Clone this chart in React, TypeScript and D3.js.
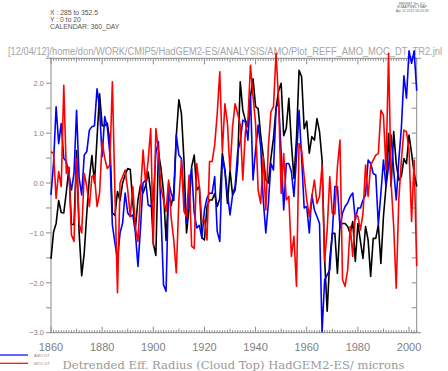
import React from 'react';
import * as d3 from 'd3';

const startYear = 1860;
const yearTicks = [1860, 1880, 1900, 1920, 1940, 1960, 1980, 2000];
const valueTicks = [2, 1, 0, -1, -2, -3];

// AMO DT (blue)
const amo = [
  -0.24, 0.4, 1.53, 0.79, 1.19, 0.49, 0.43, 0.16, -0.14, 0.2,
  1.46, 0.1, -0.24, 0.56, 0.63, 1.06, 1.13, 1.15, 1.89, 1.5,
  0.53, 1.33, 1.13, 0.6, -0.84, -1.2, -1.54, -1.0, -0.8, -0.2,
  -0.6, -0.67, -0.64, -1.0, -1.67, -0.9, 0.0, 0.06, -0.44, -0.47,
  -0.34, 0.6, 0.83, -0.6, -2.04, -2.17, 0.0, -0.2, -0.35, 0.96,
  0.56, 0.49, -0.31, -0.81, -0.1, 0.29, -0.6, -0.9, -0.85, -1.1,
  -0.54, -0.3, -0.2, -0.21, 0.13, -0.97, -1.17, 0.49, 0.26, -0.21,
  -0.64, -0.24, -0.07, 0.63, 0.83, 1.26, 1.23, 0.86, 1.76, 0.06,
  0.66, 1.16, 0.73, -0.34, -1.0, -0.41, 0.39, 0.26, 1.5, 1.63,
  0.6, -0.54, 0.39, 0.39, 0.23, -0.27, 0.53, 1.46, 0.5, -0.5,
  -0.47, -1.0, -0.24, -0.54, -0.67, -0.81, -2.98, -1.94, -1.84, -1.74,
  -1.01, -0.07, -0.07, -0.9, -0.6, -0.47, -0.4, -0.27, -0.2, -0.74,
  -0.5, -0.5, -0.34, -0.24, 0.46, 0.39, 0.19, 0.16, -0.84, -0.2,
  0.46, -0.07, 0.33, 0.96, 0.26, -0.34, 0.46, 1.1, 2.15, 1.7,
  2.65, 2.4, 2.65, 1.85,
];

// MOC DT (red)
const moc = [
  0.63, 0.59, -0.31, 0.23, -0.07, 1.96, 0.19, 0.32, -1.04, -1.17,
  0.49, -0.81, -1.0, 0.19, -0.07, -0.47, 0.13, 0.16, -0.47, -0.2,
  0.83, 0.5, 0.29, 0.36, 2.03, -0.2, -2.2, 0.0, 0.13, 0.26,
  -0.14, -0.67, -0.07, -0.9, -1.17, -0.2, 0.66, 0.0, 0.46, 1.09,
  -1.24, 1.09, 0.66, -0.1, -0.34, -0.57, 0.06, -0.7, -1.14, -1.8,
  -0.34, 0.46, -0.57, -0.67, 0.16, -1.27, -1.31, 0.39, -0.07, -0.77,
  -0.74, -1.14, 0.43, 0.43, 0.76, 1.39, 2.23, 0.63, 1.59, 1.19,
  0.23, 1.13, 1.59, 1.39, 1.16, 0.06, 1.03, 1.26, 2.36, 1.73,
  1.19, -0.14, -0.41, 0.53, -0.54, 0.73, 1.43, 1.53, 2.6, 1.66,
  -0.21, 0.59, -0.34, -0.27, -1.47, -1.07, -2.07, 0.79, 0.66, 0.13,
  -0.34, -0.67, -0.27, 0.06, -0.41, -0.27, 0.36, -1.57, -0.94, 0.13,
  -0.61, -0.62, 0.33, 0.86, -1.94, -2.07, -1.74, -0.87, -1.47, -0.61,
  -0.67, -0.94, -0.61, 0.36, -0.27, 0.36, 0.46, 0.56, 0.59, 1.46,
  1.36, 0.26, 2.6, 0.0, -0.87, -2.11, -0.34, 0.46, 1.06, 1.03,
  0.66, -0.77, 0.46, -1.67,
];

// third series (black)
const reff = [
  -1.52, -0.98, -0.81, -0.35, -0.59, -0.6, -0.18, 0.3, -0.83, -0.83,
  0.65, -1.0, -1.86, -1.4, -0.6, 0.1, 0.55, 0.0, 0.9, 1.79,
  1.15, 1.15, 1.2, 0.85, -0.6, -0.65, -0.17, -0.35, 0.0, 0.16,
  0.29, 0.27, -0.41, -0.91, -0.34, -0.04, -0.2, -0.05, 0.22, -0.18,
  -1.21, -1.45, 0.62, 0.3, -0.18, -1.15, -0.2, -0.45, -0.2, 0.95,
  1.67, 1.39, 0.46, -1.0, -0.5, 0.33, 0.56, -0.14, -0.07, -1.1,
  -1.14, -0.47, -0.34, -0.34, -0.21, -0.47, -0.31, 0.6, 0.26, -0.41,
  0.26, -0.24, -0.14, 0.39, 2.03, 1.46, 1.26, 1.13, 1.73, 2.09,
  1.53, 1.49, 0.96, 0.53, 0.06, 0.0, 0.5, 0.9, 1.5, 1.85,
  2.0, 0.95, 1.1, 1.7, 0.8, 0.09, 0.9, 2.26, 2.13, 1.09,
  1.24, 0.6, 0.93, 0.86, 1.29, 1.03, 0.46, -1.54, -2.57, -1.54,
  -1.01, -1.01, -1.81, -0.84, -0.81, -0.81, -0.87, -1.01, -0.77, -1.57,
  -0.81, -1.17, -1.51, -0.87, -1.14, -1.87, -1.11, -1.11, -0.84, -1.61,
  -0.67, -0.07, 0.99, -0.07, 1.03, 0.39, 0.06, 0.13, 0.49, 0.39,
  0.96, 0.6, 0.2, -0.07,
];

const W = 448;
const H = 371;
const left = 51;
const right = 416.7;
const top = 58.3;
const bottom = 332.7;

const x = d3.scaleLinear().domain([startYear, startYear + reff.length - 1]).range([left, right]);
const y = d3.scaleLinear().domain([-3, 2.5]).range([bottom, top]);

const lineOf = (vals: number[]) =>
  d3.line<number>()
    .x((d, i) => x(startYear + i))
    .y(d => y(d))(vals) || '';

const axisColor = '#8a8a8a';
const labelColor = '#808080';

const App: React.FC = () => {
  const years = d3.range(startYear, 2004);
  const halfSteps = d3.range(-3, 2.51, 0.5);

  return (
    <svg width={W} height={H} style={{ position: 'fixed', left: 0, top: 0, background: '#fff' }}
      fontFamily="'Liberation Sans', Arial, sans-serif">
      {/* header */}
      <g fill="#555" fontSize={6.8}>
        <text x={50} y={15}>X : 285 to 352.5</text>
        <text x={50} y={22}>Y : 0 to 20</text>
        <text x={50} y={29}>CALENDAR: 360_DAY</text>
      </g>
      <g fill="#666" fontSize={3.4} textAnchor="middle">
        <text x={412} y={4.5}>FERRET Ver. 6.1</text>
        <text x={412} y={8}>NOAA/PMEL TMAP</text>
        <text x={412} y={11.5}>Apr 12 2012 16:23:28</text>
      </g>
      <text x={8} y={54.5} fill="#a5a5a5" fontSize={10} textLength={434} lengthAdjust="spacingAndGlyphs">
        [12/04/12]/home/don/WORK/CMIP5/HadGEM2-ES/ANALYSIS/AMO/Plot_REFF_AMO_MOC_DT_TR2.jnl
      </text>

      {/* frame */}
      <g stroke={axisColor} strokeWidth={1} fill="none">
        <line x1={left} x2={421} y1={top} y2={top} />
        <line x1={left} x2={421} y1={bottom} y2={bottom} />
        <line x1={left} x2={left} y1={top - 1} y2={bottom} />
        <line x1={right} x2={right} y1={top} y2={bottom} />
        {years.map(yr => {
          const len = yr % 20 === 0 ? 6 : yr % 10 === 0 ? 4 : 2.5;
          return (
            <g key={yr}>
              <line x1={x(yr)} x2={x(yr)} y1={bottom} y2={bottom - len} />
              <line x1={x(yr)} x2={x(yr)} y1={top} y2={top + len} />
            </g>
          );
        })}
        {halfSteps.map(v => (
          <g key={v}>
            <line x1={left} x2={left - 5} y1={y(v)} y2={y(v)} />
            <line x1={right} x2={right - 5} y1={y(v)} y2={y(v)} />
          </g>
        ))}
      </g>

      {/* axis labels */}
      <g fill={labelColor} fontSize={7.5} textAnchor="end">
        {valueTicks.map(v => (
          <text key={v} x={left - 7} y={y(v) + 2.7}>{(v < 0 ? '\u2212' : '') + Math.abs(v).toFixed(1)}</text>
        ))}
      </g>
      <g fill={labelColor} fontSize={11} textAnchor="middle">
        {yearTicks.map(yr => (
          <text key={yr} x={x(yr)} y={350.5}>{yr}</text>
        ))}
      </g>

      {/* series */}
      <g fill="none" strokeWidth={1.6} strokeLinejoin="round">
        <path d={lineOf(reff)} stroke="#000" />
        <path d={lineOf(amo)} stroke="#0000ff" />
        <path d={lineOf(moc)} stroke="#ff0000" />
      </g>

      {/* legend and caption */}
      <line x1={0} x2={28} y1={355} y2={355} stroke="#0000ff" strokeWidth={1.2} />
      <line x1={0} x2={28} y1={363.3} y2={363.3} stroke="#ff0000" strokeWidth={1.2} />
      <g fill="#888" fontSize={4}>
        <text x={34} y={356.5}>AMO DT</text>
        <text x={34} y={364.8}>MOC DT</text>
      </g>
      <text x={62.5} y={369} fill="#999" fontSize={11.5} fontFamily="'DejaVu Serif', serif"
        textLength={342} lengthAdjust="spacingAndGlyphs">
        Detrended Eff. Radius (Cloud Top) HadGEM2-ES/ microns
      </text>
    </svg>
  );
};

export default App;
